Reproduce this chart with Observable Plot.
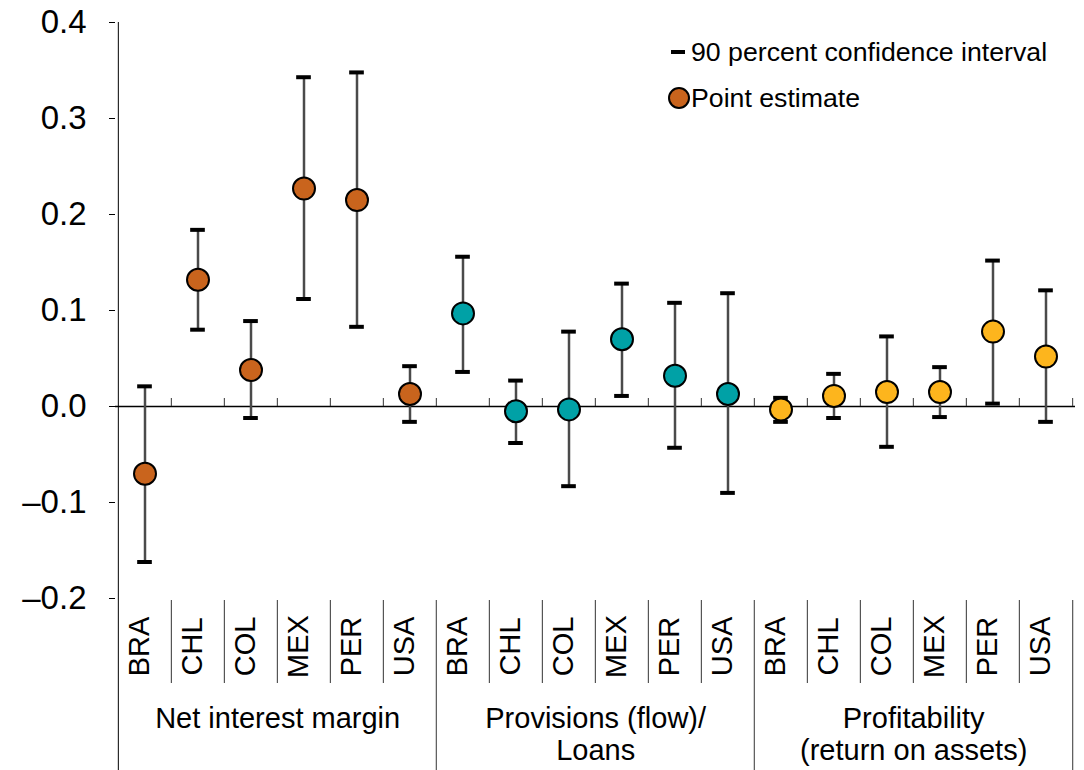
<!DOCTYPE html>
<html>
<head>
<meta charset="utf-8">
<script src="https://cdn.jsdelivr.net/npm/d3@7"></script>
<script src="https://cdn.jsdelivr.net/npm/@observablehq/plot@0.6"></script>
<style>
  html, body { margin: 0; padding: 0; background: #fff; }
  #wrap { position: relative; width: 1084px; height: 770px; font-family: "Liberation Sans", Arial, sans-serif; }
  #legend { position: absolute; left: 0; top: 0; }
  .li { position: absolute; font-size: 26.7px; color: #000; white-space: nowrap; line-height: 1; }
</style>
</head>
<body>
<div id="wrap"></div>
<script>
// ---- Data ----
const countries = ["BRA", "CHL", "COL", "MEX", "PER", "USA"];
const groupIds = ["nim", "prov", "prof"];
const groupLabels = ["Net interest margin", "Provisions (flow)/\nLoans", "Profitability\n(return on assets)"];
const groupColors = ["#C9641D", "#00A1A6", "#FDB51D"];

const nimEstimate = [-0.070, 0.132, 0.038, 0.227, 0.215, 0.013];
const nimLower    = [-0.162, 0.080, -0.012, 0.112, 0.083, -0.016];
const nimUpper    = [0.021, 0.184, 0.089, 0.343, 0.348, 0.042];

const provEstimate = [0.097, -0.005, -0.003, 0.070, 0.032, 0.013];
const provLower    = [0.036, -0.038, -0.083, 0.011, -0.043, -0.090];
const provUpper    = [0.156, 0.027, 0.078, 0.128, 0.108, 0.118];

const profEstimate = [-0.003, 0.011, 0.015, 0.015, 0.078, 0.052];
const profLower    = [-0.016, -0.012, -0.042, -0.011, 0.003, -0.016];
const profUpper    = [0.009, 0.034, 0.073, 0.041, 0.152, 0.121];

const yTicks = [-0.2, -0.1, 0.0, 0.1, 0.2, 0.3, 0.4];
const legendLabels = ["90 percent confidence interval", "Point estimate"];

// ---- Build table ----
const series = [
  [nimEstimate, nimLower, nimUpper],
  [provEstimate, provLower, provUpper],
  [profEstimate, profLower, profUpper]
];
const rows = [];
groupIds.forEach((g, gi) => {
  countries.forEach((c, ci) => {
    rows.push({
      key: g + "|" + c, group: g, country: c,
      est: series[gi][0][ci], lo: series[gi][1][ci], hi: series[gi][2][ci],
      color: groupColors[gi]
    });
  });
});
const keys = rows.map(d => d.key);
const groupRows = groupIds.map((g, gi) => ({ key: g + "|" + countries[2], label: groupLabels[gi] }));
const groupStartKeys = groupIds.map(g => g + "|" + countries[0]);
const innerKeys = keys.filter(k => !groupStartKeys.includes(k));

const W = 1084, H = 770, mL = 115, mR = 9, mT = 22, mB = 172;
const bw = (W - mL - mR) / keys.length;
const fmt = d => (d < 0 ? "\u2013" : "") + Math.abs(d).toFixed(1);
const font = "Liberation Sans, Arial, sans-serif";

const chart = Plot.plot({
  width: W, height: H,
  marginLeft: mL, marginRight: mR, marginTop: mT, marginBottom: mB,
  style: { fontFamily: font, fontSize: "29px", color: "#000", background: "#fff", overflow: "visible" },
  x: { type: "band", domain: keys, padding: 0, axis: null },
  y: { domain: [-0.2, 0.4], axis: null },
  color: { type: "identity" },
  marks: [
    Plot.axisY({ ticks: yTicks, tickFormat: fmt, tickSize: 6, tickPadding: 23, fontSize: 33, label: null, stroke: "#000", strokeWidth: 1 }),
    // left axis line (extends to bottom)
    Plot.ruleX([keys[0]], { x: d => d, dx: -bw / 2, insetBottom: -mB, stroke: "#000", strokeWidth: 1 }),
    // zero line
    Plot.ruleY([0], { stroke: "#000", strokeWidth: 1.5 }),
    // small upward ticks on zero line at category boundaries
    Plot.ruleX(keys.slice(1), { x: d => d, y1: 0, y2: 0, dx: -bw / 2, insetTop: -8, stroke: "#333", strokeWidth: 1 }),
    Plot.ruleX([keys[keys.length - 1]], { x: d => d, y1: 0, y2: 0, dx: bw / 2, insetTop: -8, stroke: "#333", strokeWidth: 1 }),
    // category separators
    Plot.ruleX(innerKeys, { x: d => d, dx: -bw / 2, insetTop: (H - mT - mB) + 2, insetBottom: -85, stroke: "#333", strokeWidth: 1 }),
    // group separators
    Plot.ruleX(groupStartKeys.slice(1), { x: d => d, dx: -bw / 2, insetTop: (H - mT - mB) + 2, insetBottom: -mB, stroke: "#555", strokeWidth: 1.2 }),
    Plot.ruleX([keys[keys.length - 1]], { x: d => d, dx: bw / 2, insetTop: (H - mT - mB) + 2, insetBottom: -mB, stroke: "#555", strokeWidth: 1.2 }),
    // confidence interval
    Plot.ruleX(rows, { x: "key", y1: "lo", y2: "hi", stroke: "#4a4a4a", strokeWidth: 2.5 }),
    Plot.tickY(rows, { x: "key", y: "hi", inset: (bw - 15) / 2, stroke: "#000", strokeWidth: 4 }),
    Plot.tickY(rows, { x: "key", y: "lo", inset: (bw - 15) / 2, stroke: "#000", strokeWidth: 4 }),
    // point estimates
    Plot.dot(rows, { x: "key", y: "est", r: 11, fill: "color", stroke: "#000", strokeWidth: 2 }),
    // country labels
    Plot.text(rows, { x: "key", text: "country", frameAnchor: "bottom", dx: 4, dy: 48, rotate: -90, fontSize: 29, fill: "#000" }),
    // group labels
    Plot.text(groupRows, { x: "key", dx: bw / 2, text: "label", frameAnchor: "bottom", lineAnchor: "top", dy: 106, lineHeight: 1.12, fontSize: 29, fill: "#000" })
  ]
});

const wrap = document.getElementById("wrap");
wrap.appendChild(chart);

// legend overlay (inside plot area, top right)
const lg = document.createElement("div");
lg.id = "legend";
lg.innerHTML = `
  <svg width="1084" height="130" style="position:absolute;left:0;top:0">
    <line x1="671" x2="685" y1="52" y2="52" stroke="#000" stroke-width="4"></line>
    <circle cx="679" cy="98" r="10" fill="${groupColors[0]}" stroke="#000" stroke-width="2"></circle>
  </svg>
  <div class="li" style="left:691px;top:39px">${legendLabels[0]}</div>
  <div class="li" style="left:691px;top:85px">${legendLabels[1]}</div>
`;
wrap.appendChild(lg);
</script>
</body>
</html>
